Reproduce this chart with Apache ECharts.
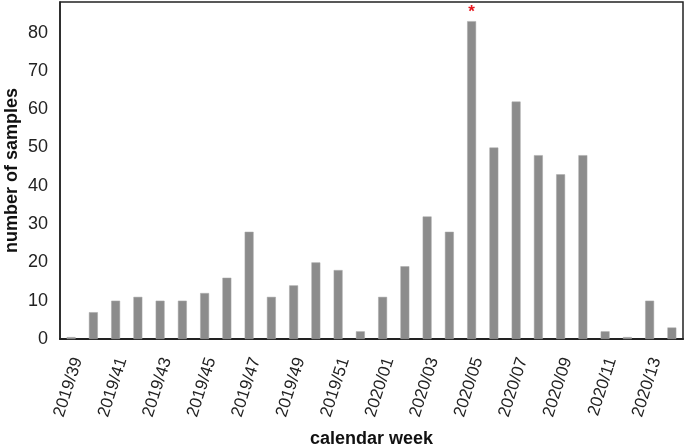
<!DOCTYPE html>
<html>
<head>
<meta charset="utf-8">
<script src="https://cdn.jsdelivr.net/npm/echarts@6/dist/echarts.min.js"></script>
<style>
    html, body { margin: 0; padding: 0; background: #fff; }
    #chart { width: 685px; height: 445px; }
</style>
</head>
<body>
<div id="chart"></div>
<script>
// calendar weeks 2019/39 .. 2020/14
var weeks = [
    '2019/39', '2019/40', '2019/41', '2019/42', '2019/43', '2019/44', '2019/45',
    '2019/46', '2019/47', '2019/48', '2019/49', '2019/50', '2019/51', '2019/52',
    '2020/01', '2020/02', '2020/03', '2020/04', '2020/05', '2020/06', '2020/07',
    '2020/08', '2020/09', '2020/10', '2020/11', '2020/12', '2020/13', '2020/14'
];
var samples = [
    0.5, 7, 10, 11, 10, 10, 12,
    16, 28, 11, 14, 20, 18, 2,
    11, 19, 32, 28, 83, 50, 62,
    48, 43, 48, 2, 0.5, 10, 3
];
var starredWeek = '2020/05';

window.onload = function () {
    var myChart = echarts.init(document.getElementById('chart'));

    var data = samples.map(function (v, i) {
        if (weeks[i] == starredWeek) {
            return {
                value: v,
                label: {
                    show: true,
                    position: 'top',
                    distance: 0,
                    formatter: '*',
                    color: '#e8141c',
                    fontSize: 17,
                    fontWeight: 'bold',
                    fontFamily: 'Liberation Sans'
                }
            };
        }
        return v;
    });

    var option = {
        animation: false,
        grid: {
            left: 60,
            right: 2,
            top: 2,
            bottom: 106,
            outerBoundsMode: 'none',
            containLabel: false,
            show: true,
            borderColor: '#222',
            borderWidth: 1.5
        },
        xAxis: {
            type: 'category',
            data: weeks,
            name: 'calendar week',
            nameLocation: 'middle',
            nameGap: 91,
            nameMoveOverlap: false,
            nameTextStyle: {
                fontFamily: 'Liberation Sans',
                fontSize: 18,
                fontWeight: 'bold',
                color: '#111'
            },
            axisLine: { lineStyle: { color: '#222', width: 2 } },
            axisTick: { show: false },
            axisLabel: {
                interval: 1,
                rotate: 72,
                margin: 17,
                verticalAlign: 'top',
                lineHeight: 14,
                fontFamily: 'Liberation Sans',
                fontSize: 17,
                color: '#222'
            }
        },
        yAxis: {
            type: 'value',
            min: 0,
            max: 88,
            interval: 10,
            name: 'number of samples',
            nameLocation: 'middle',
            nameGap: 39,
            nameMoveOverlap: false,
            nameTextStyle: {
                fontFamily: 'Liberation Sans',
                fontSize: 18,
                fontWeight: 'bold',
                color: '#111'
            },
            axisLine: { show: true, lineStyle: { color: '#222', width: 1.5 } },
            axisTick: { show: false },
            splitLine: { show: false },
            axisLabel: {
                showMaxLabel: false,
                margin: 12,
                fontFamily: 'Liberation Sans',
                fontSize: 18,
                color: '#222'
            }
        },
        series: [{
            type: 'bar',
            data: data,
            barWidth: '40%',
            itemStyle: {
                color: '#8c8c8c',
                borderColor: '#a8a8a8',
                borderWidth: 0.5
            }
        }]
    };
    myChart.setOption(option);
};
</script>
</body>
</html>
